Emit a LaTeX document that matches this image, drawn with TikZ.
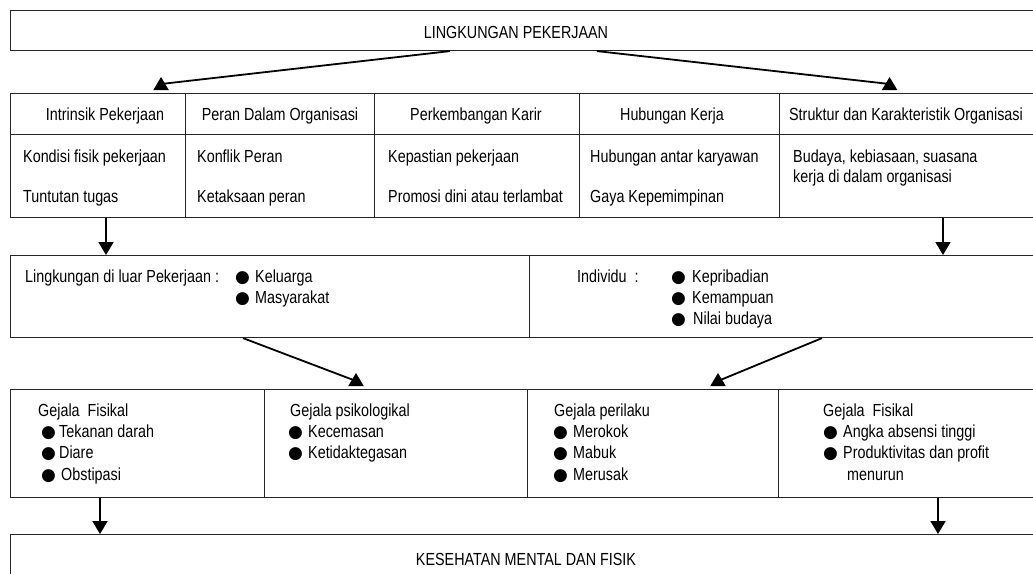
\documentclass[tikz,border=0pt]{standalone}
\usepackage{fontspec}
\setmainfont{Liberation Sans}[FakeStretch=0.82]
\newfontfamily\symfont{DejaVu Sans}
\usetikzlibrary{arrows.meta,calc}
\newcommand\fs{\fontsize{17.5pt}{21pt}\selectfont}
\newcommand\bl[1][18pt]{\makebox[#1][l]{\hspace{-2pt}\raisebox{-0.5pt}{\symfont\fontsize{17pt}{17pt}\selectfont ●}}}
\begin{document}
\begin{tikzpicture}[x=1pt,y=-1pt,
  box/.style={draw=black!85,line width=1.1pt,inner sep=0pt,anchor=north west},
  txt/.style={inner sep=0pt,anchor=base west,font=\fs},
  ctxt/.style={inner sep=0pt,anchor=base,font=\fs},
  arr/.style={line width=1.8pt,-{Triangle[width=15pt,length=13pt]}}]
\clip (0,0) rectangle (1033,573);
\fill[white] (0,0) rectangle (1033,573);
% top box
\node[box,minimum width=1040pt,minimum height=40pt] (top) at (10,10) {};
\node[ctxt] (ttop) at (516,38) {LINGKUNGAN PEKERJAAN};
% table headers
\node[box,minimum width=175pt,minimum height=41pt] (h1) at (10,93) {};
\node[box,minimum width=189pt,minimum height=41pt] (h2) at (185,93) {};
\node[box,minimum width=205pt,minimum height=41pt] (h3) at (374,93) {};
\node[box,minimum width=200pt,minimum height=41pt] (h4) at (579,93) {};
\node[box,minimum width=270pt,minimum height=41pt] (h5) at (779,93) {};
\node[ctxt] (th1) at (105,120) {Intrinsik Pekerjaan};
\node[ctxt] (th2) at (280,120) {Peran Dalam Organisasi};
\node[ctxt] (th3) at (476,120) {Perkembangan Karir};
\node[ctxt] (th4) at (672,120) {Hubungan Kerja};
\node[ctxt] (th5) at (906,120) {Struktur dan Karakteristik Organisasi};
% table contents
\node[box,minimum width=175pt,minimum height=83pt] (c1) at (10,134) {};
\node[box,minimum width=189pt,minimum height=83pt] (c2) at (185,134) {};
\node[box,minimum width=205pt,minimum height=83pt] (c3) at (374,134) {};
\node[box,minimum width=200pt,minimum height=83pt] (c4) at (579,134) {};
\node[box,minimum width=270pt,minimum height=83pt] (c5) at (779,134) {};
\node[txt] (k1a) at (23,162) {Kondisi fisik pekerjaan};
\node[txt] (k1b) at (23,202) {Tuntutan tugas};
\node[txt] (k2a) at (197,162) {Konflik Peran};
\node[txt] (k2b) at (197,202) {Ketaksaan peran};
\node[txt] (k3a) at (388,162) {Kepastian pekerjaan};
\node[txt] (k3b) at (388,202) {Promosi dini atau terlambat};
\node[txt] (k4a) at (590,162) {Hubungan antar karyawan};
\node[txt] (k4b) at (590,202) {Gaya Kepemimpinan};
\node[txt] (k5a) at (793,162) {Budaya, kebiasaan, suasana};
\node[txt] (k5b) at (793,182) {kerja di dalam organisasi};
% row 3
\node[box,minimum width=519pt,minimum height=82pt] (ext) at (10,255) {};
\node[box,minimum width=520pt,minimum height=82pt] (ind) at (529,255) {};
\node[txt] (e0) at (25,282) {Lingkungan di luar Pekerjaan :};
\node[txt] (e1) at (237,282) {\bl Keluarga};
\node[txt] (e2) at (237,303) {\bl Masyarakat};
\node[txt] (i0) at (577,282) {Individu\ \ :};
\node[txt] (i1) at (673,282) {\bl[19pt]Kepribadian};
\node[txt] (i2) at (673,303) {\bl[19pt]Kemampuan};
\node[txt] (i3) at (673,324) {\bl[20pt]Nilai budaya};
% row 4
\node[box,minimum width=254pt,minimum height=108pt] (g1) at (10,389) {};
\node[box,minimum width=263pt,minimum height=108pt] (g2) at (264,389) {};
\node[box,minimum width=251pt,minimum height=108pt] (g3) at (527,389) {};
\node[box,minimum width=270pt,minimum height=108pt] (g4) at (778,389) {};
\node[txt] (p10) at (38,416) {Gejala\ \ Fisikal};
\node[txt] (p11) at (43,437) {\bl[16pt]Tekanan darah};
\node[txt] (p12) at (43,458) {\bl[16pt]Diare};
\node[txt] (p13) at (43,480) {\bl[18pt]Obstipasi};
\node[txt] (p20) at (290,416) {Gejala psikologikal};
\node[txt] (p21) at (290,437) {\bl Kecemasan};
\node[txt] (p22) at (290,458) {\bl Ketidaktegasan};
\node[txt] (p30) at (554,416) {Gejala perilaku};
\node[txt] (p31) at (555,437) {\bl Merokok};
\node[txt] (p32) at (555,458) {\bl Mabuk};
\node[txt] (p33) at (555,480) {\bl Merusak};
\node[txt] (p40) at (823,416) {Gejala\ \ Fisikal};
\node[txt] (p41) at (825,437) {\bl Angka absensi tinggi};
\node[txt] (p42) at (825,458) {\bl Produktivitas dan profit};
\node[txt] (p43) at (847,480) {menurun};
% bottom
\node[box,minimum width=1040pt,minimum height=60pt] (kes) at (10,534) {};
\node[ctxt] (tkes) at (526,565) {KESEHATAN MENTAL DAN FISIK};
% arrows
\draw[arr] ([xshift=440pt]top.south west) -- ([xshift=63pt,yshift=9pt]h1.north) -- ([xshift=63pt,yshift=16pt]h1.north);
\draw[arr] ([xshift=587pt]top.south west) -- ([xshift=-25pt,yshift=9pt]h5.north) -- ([xshift=-25pt,yshift=16pt]h5.north);
\draw[arr] ([xshift=96pt]c1.south west) -- ([xshift=96pt]ext.north west);
\draw[arr] ([xshift=164pt]c5.south west) -- ([xshift=414pt]ind.north west);
\draw[arr] ([xshift=233pt]ext.south west) -- ([xshift=92pt,yshift=8pt]g2.north west) -- ([xshift=92pt,yshift=16pt]g2.north west);
\draw[arr] ([xshift=293pt]ind.south west) -- ([xshift=191pt,yshift=8pt]g3.north west) -- ([xshift=191pt,yshift=16pt]g3.north west);
\draw[arr] ([xshift=90pt]g1.south west) -- ([xshift=90pt]kes.north west);
\draw[arr] ([xshift=160pt]g4.south west) -- ([xshift=928pt]kes.north west);
\end{tikzpicture}
\end{document}
